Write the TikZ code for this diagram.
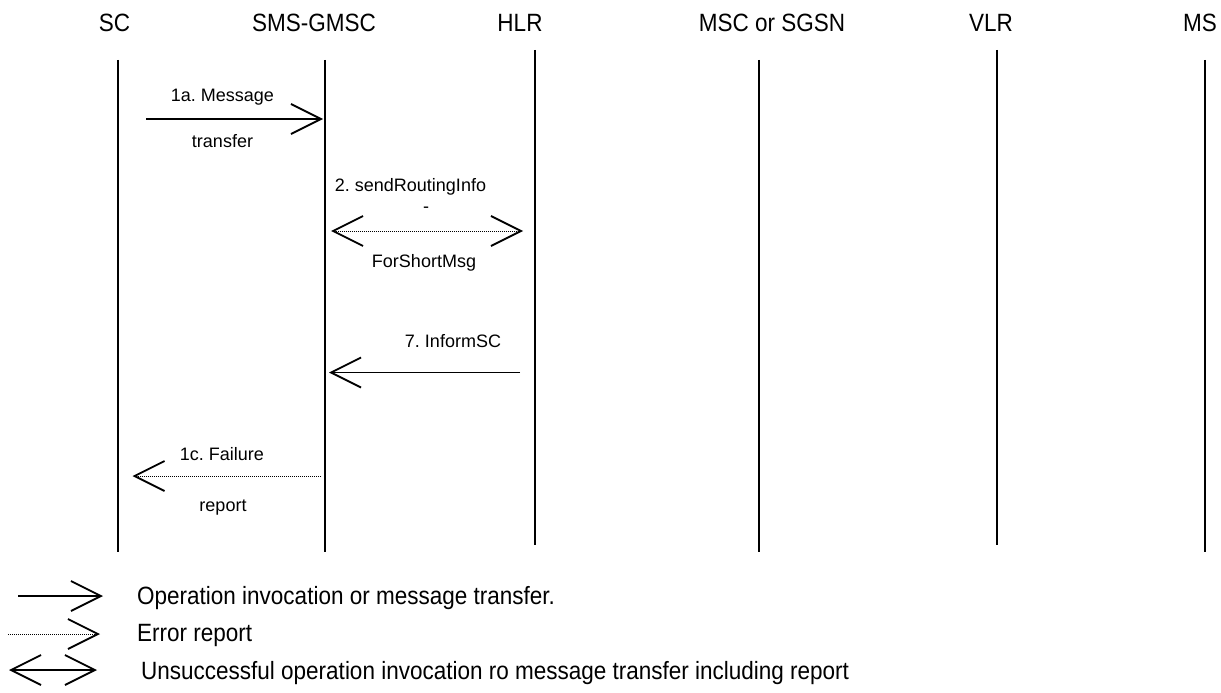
\documentclass[tikz,border=0pt]{standalone}
\usepackage{fontspec}
\setmainfont{Liberation Sans}
\newfontfamily\condfont[FakeStretch=0.9]{Liberation Sans}
\usetikzlibrary{arrows.meta}
\frenchspacing
\tikzset{
  title/.style={anchor=base, inner sep=0pt, font=\condfont\fontsize{25}{30}\selectfont},
  lbl/.style={anchor=base, inner sep=0pt, font=\fontsize{18}{22}\selectfont},
  legtext/.style={anchor=base west, inner sep=0pt, font=\condfont\fontsize{25}{30}\selectfont},
  lifeline/.style={line width=1.8pt},
  msg/.style={line width=1.8pt, -{Straight Barb[length=30pt,width=30pt,line width=1.8pt]}},
  err/.style={line width=1pt, dash pattern=on 1pt off 1pt, -{Straight Barb[length=30pt,width=30pt,line width=1.8pt]}},
  errboth/.style={line width=1pt, dash pattern=on 1pt off 1pt, {Straight Barb[length=30pt,width=30pt,line width=1.8pt]}-{Straight Barb[length=30pt,width=30pt,line width=1.8pt]}},
  unsucc/.style={line width=1.8pt, {Straight Barb[length=30pt,width=30pt,line width=1.8pt]}-{Straight Barb[length=30pt,width=30pt,line width=1.8pt]}},
}
\begin{document}
\begin{tikzpicture}[x=1pt,y=-1pt]
\useasboundingbox (0,0) rectangle (1221,693);
% titles
\node[title] (tsc)   at (114.5,32) {SC};
\node[title] (tsms)  at (314,32) {SMS-GMSC};
\node[title] (thlr)  at (520,32) {HLR};
\node[title] (tmsc)  at (772,32) {MSC or SGSN};
\node[title] (tvlr)  at (991,32) {VLR};
\node[title] (tms)   at (1200,32) {MS};
% lifelines
\coordinate (sc-a) at (118,60);   \coordinate (sc-b) at (118,552);
\coordinate (sms-a) at (325,60);  \coordinate (sms-b) at (325,552);
\coordinate (hlr-a) at (535,50);  \coordinate (hlr-b) at (535,545);
\coordinate (msc-a) at (759,60);  \coordinate (msc-b) at (759,552);
\coordinate (vlr-a) at (997,50);  \coordinate (vlr-b) at (997,545);
\coordinate (ms-a) at (1205,60);  \coordinate (ms-b) at (1205,552);
\foreach \l in {sc,sms,hlr,msc,vlr,ms} \draw[lifeline] (\l-a) -- (\l-b);
% 1a
\coordinate (m1a-s) at (146,119); \coordinate (m1a-e) at (323,119);
\draw[msg] (m1a-s) -- (m1a-e);
\node[lbl] (l1a) at (222.5,102) {1a. Message};
\node[lbl] (l1b) at (222.5,147) {transfer};
% 2
\coordinate (m2-s) at (331,231); \coordinate (m2-e) at (523,231);
\draw[errboth] (m2-s) -- (m2-e);
\node[lbl] (l2a) at (410.5,191) {2. sendRoutingInfo};
\node[lbl] (l2b) at (426,212) {-};
\node[lbl] (l2c) at (424,267) {ForShortMsg};
% 7
\coordinate (m7-s) at (520,372.5); \coordinate (m7-e) at (329,372.5);
\draw[msg] (m7-s) -- (m7-e);
\node[lbl] (l7) at (453,347) {7. InformSC};
% 1c
\coordinate (m1c-s) at (321,476); \coordinate (m1c-e) at (132.5,476);
\draw[err] (m1c-s) -- (m1c-e);
\node[lbl] (l1c) at (222,460) {1c. Failure};
\node[lbl] (l1d) at (223,511.5) {report};
% legend
\coordinate (g1-s) at (18,596); \coordinate (g1-e) at (103,596);
\draw[msg] (g1-s) -- (g1-e);
\node[legtext] (g1t) at (137,604) {Operation invocation or message transfer.};
\coordinate (g2-s) at (8,634); \coordinate (g2-e) at (100,634);
\draw[err] (g2-s) -- (g2-e);
\node[legtext] (g2t) at (137,641.5) {Error report};
\coordinate (g3-s) at (9,670); \coordinate (g3-e) at (97,670);
\draw[unsucc] (g3-s) -- (g3-e);
\node[legtext] (g3t) at (141,679) {Unsuccessful operation invocation ro message transfer including report};
\end{tikzpicture}
\end{document}
